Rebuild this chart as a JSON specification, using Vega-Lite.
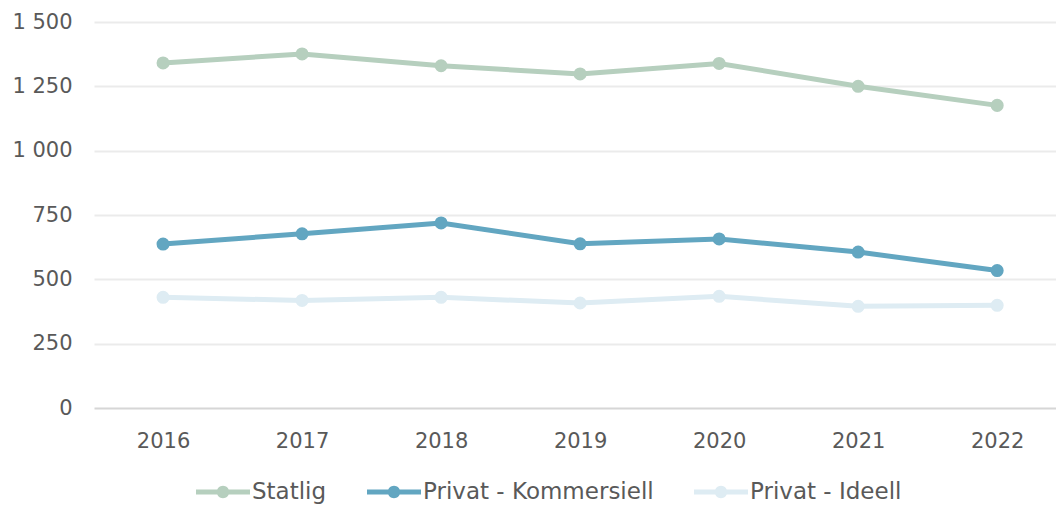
{
  "$schema": "https://vega.github.io/schema/vega-lite/v6.json",
  "width": 962,
  "height": 386,
  "autosize": {"type": "none"},
  "padding": {"left": 94, "top": 22, "right": 0, "bottom": 97},
  "background": "white",
  "config": {"view": {"stroke": null}, "font": "DejaVu Sans"},
  "data": {
    "values": [
      {"year": "2016", "series": "Statlig", "value": 1341},
      {"year": "2017", "series": "Statlig", "value": 1376},
      {"year": "2018", "series": "Statlig", "value": 1330},
      {"year": "2019", "series": "Statlig", "value": 1298},
      {"year": "2020", "series": "Statlig", "value": 1339},
      {"year": "2021", "series": "Statlig", "value": 1250},
      {"year": "2022", "series": "Statlig", "value": 1176},
      {"year": "2016", "series": "Privat - Kommersiell", "value": 637},
      {"year": "2017", "series": "Privat - Kommersiell", "value": 677},
      {"year": "2018", "series": "Privat - Kommersiell", "value": 719},
      {"year": "2019", "series": "Privat - Kommersiell", "value": 638},
      {"year": "2020", "series": "Privat - Kommersiell", "value": 657},
      {"year": "2021", "series": "Privat - Kommersiell", "value": 606},
      {"year": "2022", "series": "Privat - Kommersiell", "value": 534},
      {"year": "2016", "series": "Privat - Ideell", "value": 430},
      {"year": "2017", "series": "Privat - Ideell", "value": 418},
      {"year": "2018", "series": "Privat - Ideell", "value": 430},
      {"year": "2019", "series": "Privat - Ideell", "value": 408},
      {"year": "2020", "series": "Privat - Ideell", "value": 434},
      {"year": "2021", "series": "Privat - Ideell", "value": 395},
      {"year": "2022", "series": "Privat - Ideell", "value": 399}
    ]
  },
  "encoding": {
    "x": {
      "field": "year",
      "type": "ordinal",
      "scale": {"type": "point", "padding": 0.46, "align": 0.54},
      "axis": {
        "title": null,
        "domain": false,
        "ticks": false,
        "grid": false,
        "labelAngle": 0,
        "labelPadding": 22,
        "labelFontSize": 21,
        "labelColor": "#595959"
      }
    },
    "y": {
      "field": "value",
      "type": "quantitative",
      "scale": {"domain": [0, 1500]},
      "axis": {
        "title": null,
        "values": [0, 250, 500, 750, 1000, 1250, 1500],
        "labelExpr": "replace(format(datum.value, ','), ',', ' ')",
        "domain": false,
        "ticks": false,
        "labelPadding": 22,
        "labelFontSize": 21,
        "labelColor": "#595959",
        "gridColor": {"condition": {"test": "datum.value == 0", "value": "#d6d6d6"}, "value": "#ebebeb"},
        "gridWidth": 2
      }
    },
    "color": {
      "field": "series",
      "type": "nominal",
      "sort": null,
      "scale": {
        "domain": ["Statlig", "Privat - Kommersiell", "Privat - Ideell"],
        "range": ["#b6cfbe", "#62a6c1", "#deecf3"]
      },
      "legend": {
        "title": null,
        "orient": "none",
        "direction": "horizontal",
        "legendX": 102,
        "legendY": 443,
        "padding": 0,
        "symbolType": "M-1,-0.09L1,-0.09L1,0.09L-1,0.09Z M-0.23,0A0.23,0.23 0 1,1 0.23,0A0.23,0.23 0 1,1 -0.23,0Z",
        "symbolSize": 2916,
        "symbolStrokeWidth": 0,
        "labelFontSize": 23,
        "labelLimit": 400,
        "labelColor": "#595959",
        "labelOffset": 2,
        "columnPadding": 40,
        "encode": {
          "symbols": {"update": {"fill": {"scale": "color", "field": "value"}, "fillOpacity": {"value": 1}}}
        }
      }
    }
  },
  "layer": [
    {"mark": {"type": "line", "strokeWidth": 5}},
    {"mark": {"type": "point", "filled": true, "size": 170, "opacity": 1}}
  ]
}
